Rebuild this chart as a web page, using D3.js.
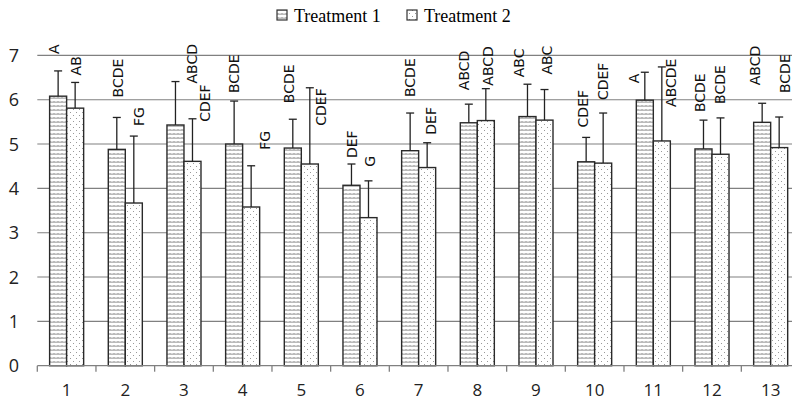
<!DOCTYPE html>
<html>
<head>
<meta charset="utf-8">
<script src="https://cdn.jsdelivr.net/npm/d3@7/dist/d3.min.js"></script>
<style>
  html, body { margin: 0; padding: 0; background: #fff; }
  svg { display: block; }
</style>
</head>
<body>
<script>
const categories = ['1','2','3','4','5','6','7','8','9','10','11','12','13'];
const seriesNames = ['Treatment 1', 'Treatment 2'];
const treatment1 = [6.08, 4.88, 5.43, 5.00, 4.91, 4.07, 4.85, 5.48, 5.62, 4.60, 5.99, 4.89, 5.49];
const treatment1Err = [0.57, 0.72, 0.98, 0.97, 0.65, 0.48, 0.85, 0.42, 0.73, 0.55, 0.63, 0.65, 0.43];
const treatment2 = [5.81, 3.67, 4.61, 3.58, 4.55, 3.34, 4.47, 5.53, 5.54, 4.57, 5.07, 4.77, 4.92];
const treatment2Err = [0.58, 1.51, 0.96, 0.93, 1.72, 0.83, 0.56, 0.72, 0.69, 1.13, 1.67, 0.82, 0.69];
const treatment1Letters = ['A','BCDE','ABCD','BCDE','BCDE','DEF','BCDE','ABCD','ABC','CDEF','A','BCDE','ABCD'];
const treatment2Letters = ['AB','FG','CDEF','FG','CDEF','G','DEF','ABCD','ABC','CDEF','ABCDE','BCDE','BCDE'];
const yTicks = [0, 1, 2, 3, 4, 5, 6, 7];

// hand-placed letter nudges (dx, gap above error cap), px
const nudge1 = [[-4,17],[1.5,20],[16,-2],[0,8],[-4,16],[0,6],[0,16],[-4.6,14],[-8.5,7],[-3,10],[-10.8,-11],[-4,8],[-7.6,18]];
const nudge2 = [[1,7],[5,10],[12.5,-3],[14,16],[11,-38],[1.6,14],[3.7,8],[2.5,3],[2.5,15],[0,13],[9,-40],[-0.8,14],[6,24]];

const W = 792, H = 400;
const svg = d3.select('body').append('svg').attr('width', W).attr('height', H);

const defs = svg.append('defs');
const p1 = defs.append('pattern').attr('id', 'pat1').attr('patternUnits', 'userSpaceOnUse')
  .attr('width', 4).attr('height', 4);
p1.append('rect').attr('width', 4).attr('height', 4).attr('fill', '#fff');
p1.append('path').attr('d', 'M0,1.5 l1,1 l1,-1 l1,1 l1,-1').attr('fill', 'none')
  .attr('stroke', '#555').attr('stroke-width', 0.9);
const p2 = defs.append('pattern').attr('id', 'pat2').attr('patternUnits', 'userSpaceOnUse')
  .attr('width', 6).attr('height', 6);
p2.append('rect').attr('width', 6).attr('height', 6).attr('fill', '#fff');
p2.append('rect').attr('x', 1).attr('y', 1).attr('width', 1).attr('height', 1).attr('fill', '#999');
p2.append('rect').attr('x', 4).attr('y', 4).attr('width', 1).attr('height', 1).attr('fill', '#999');
const fills = ['url(#pat1)', 'url(#pat2)'];

const x = d3.scaleBand().domain(categories).range([37.3, 800]).paddingInner(0.42).paddingOuter(0.21);
const xSub = d3.scaleBand().domain([0, 1]).range([0, x.bandwidth()]);
const y = d3.scaleLinear().domain([0, 7]).range([365.7, 55.4]);
const step = x.step();
const plotLeft = 37.3, plotRight = 800;

// grid
svg.append('g').selectAll('line').data(yTicks.filter(d => d > 0)).join('line')
  .attr('x1', plotLeft).attr('x2', plotRight)
  .attr('y1', d => y(d)).attr('y2', d => y(d))
  .attr('stroke', '#808080').attr('stroke-width', 1.1);

// y labels
svg.append('g').selectAll('text').data(yTicks).join('text')
  .attr('x', 19).attr('y', d => y(d)).attr('dy', '0.36em')
  .attr('text-anchor', 'end')
  .attr('font-family', 'Open Sans, sans-serif').attr('font-size', 18).attr('fill', '#222')
  .text(d => d);

// bars
const series = [
  { vals: treatment1, err: treatment1Err, letters: treatment1Letters, nudge: nudge1 },
  { vals: treatment2, err: treatment2Err, letters: treatment2Letters, nudge: nudge2 }
];
series.forEach((s, si) => {
  const g = svg.append('g');
  const bx = (i) => x(categories[i]) + xSub(si);
  const bw = xSub.bandwidth();
  g.selectAll('rect').data(s.vals).join('rect')
    .attr('x', (d, i) => bx(i)).attr('y', d => y(d))
    .attr('width', bw).attr('height', d => y(0) - y(d))
    .attr('fill', fills[si]).attr('stroke', '#2a2a2a').attr('stroke-width', 1.4);
  g.selectAll('line.e').data(s.vals).join('line').attr('class', 'e')
    .attr('x1', (d, i) => bx(i) + bw / 2).attr('x2', (d, i) => bx(i) + bw / 2)
    .attr('y1', d => y(d)).attr('y2', (d, i) => y(d + s.err[i]))
    .attr('stroke', '#222').attr('stroke-width', 1.3);
  g.selectAll('line.c').data(s.vals).join('line').attr('class', 'c')
    .attr('x1', (d, i) => bx(i) + bw / 2 - 4).attr('x2', (d, i) => bx(i) + bw / 2 + 4)
    .attr('y1', (d, i) => y(d + s.err[i])).attr('y2', (d, i) => y(d + s.err[i]))
    .attr('stroke', '#222').attr('stroke-width', 1.3);
  g.selectAll('text').data(s.letters).join('text')
    .attr('transform', (d, i) => {
      const tx = bx(i) + bw / 2 + s.nudge[i][0];
      const ty = y(s.vals[i] + s.err[i]) - s.nudge[i][1];
      return `translate(${tx},${ty}) rotate(-90)`;
    })
    .attr('dy', '0.36em').attr('text-anchor', 'start')
    .attr('font-family', 'DejaVu Sans, sans-serif').attr('font-size', 14).attr('fill', '#111')
    .text(d => d);
});

// x axis baseline and ticks
svg.append('line').attr('x1', plotLeft).attr('x2', plotRight)
  .attr('y1', y(0)).attr('y2', y(0)).attr('stroke', '#808080').attr('stroke-width', 1.3);
svg.append('g').selectAll('line').data(categories).join('line')
  .attr('x1', d => x(d) - x.paddingOuter() * step).attr('x2', d => x(d) - x.paddingOuter() * step)
  .attr('y1', y(0)).attr('y2', y(0) + 6)
  .attr('stroke', '#808080').attr('stroke-width', 1.3);
svg.append('g').selectAll('text').data(categories).join('text')
  .attr('x', d => x(d) + x.bandwidth() / 2).attr('y', 396)
  .attr('text-anchor', 'middle')
  .attr('font-family', 'Open Sans, sans-serif').attr('font-size', 17).attr('fill', '#222')
  .text(d => d);

// legend
const legendX = [277, 407];
const lg = svg.append('g');
seriesNames.forEach((n, i) => {
  lg.append('rect').attr('x', legendX[i]).attr('y', 10).attr('width', 10).attr('height', 10)
    .attr('fill', fills[i]).attr('stroke', '#333').attr('stroke-width', 1.2);
  lg.append('text').attr('x', legendX[i] + 17).attr('y', 22)
    .attr('font-family', 'Liberation Serif, Times New Roman, serif').attr('font-size', 18).attr('fill', '#000')
    .text(n);
});
</script>
</body>
</html>
